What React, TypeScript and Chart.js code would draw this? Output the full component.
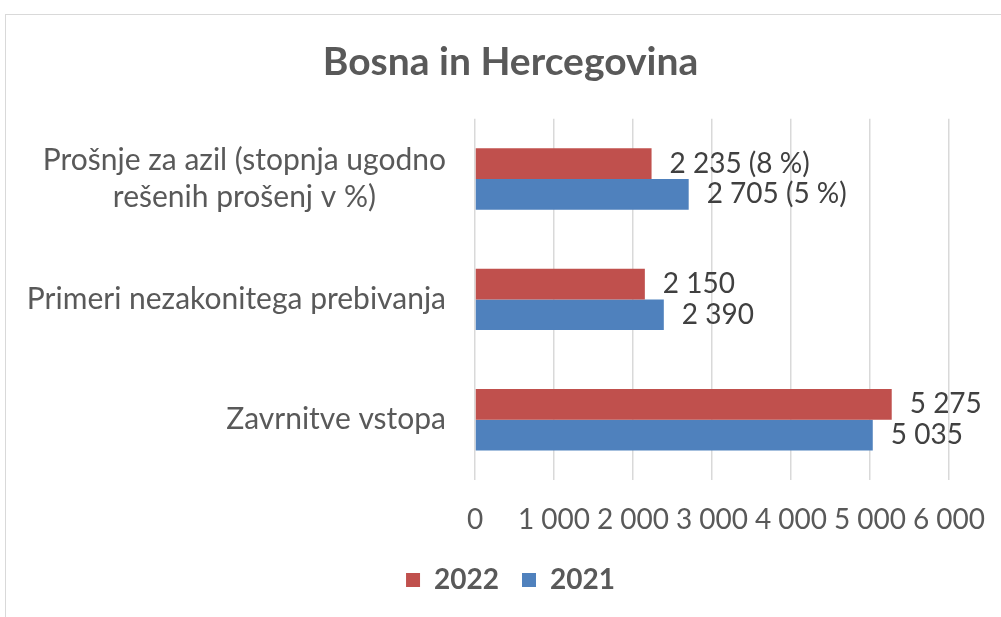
import React, { useEffect, useRef } from "react";
import { Chart, registerables } from "chart.js";

Chart.register(...registerables);

const categories: (string | string[])[] = [
  ["Prošnje za azil (stopnja ugodno", "rešenih prošenj v %)"],
  "Primeri nezakonitega prebivanja",
  "Zavrnitve vstopa",
];
const values2022 = [2235, 2150, 5275];
const values2021 = [2705, 2390, 5035];
const pct2022: (number | null)[] = [8, null, null];
const pct2021: (number | null)[] = [5, null, null];
const xTicks = [0, 1000, 2000, 3000, 4000, 5000, 6000];
const title = "Bosna in Hercegovina";

const FONT = "Lato, 'Open Sans', sans-serif";
const AXIS_COLOR = "#595959";
const LABEL_COLOR = "#404040";

const fmt = (v: number) => {
  const s = Math.round(v).toString();
  return s.replace(/\B(?=(\d{3})+(?!\d))/g, " ");
};
const dataLabel = (v: number, p: number | null) =>
  p === null ? fmt(v) : `${fmt(v)} (${p} %)`;

const dataLabelsPlugin = {
  id: "dataLabels",
  afterDatasetsDraw(chart: any) {
    const ctx = chart.ctx;
    const pcts = [pct2022, pct2021];
    ctx.save();
    ctx.font = `28px ${FONT}`;
    ctx.fillStyle = LABEL_COLOR;
    ctx.textAlign = "left";
    ctx.textBaseline = "middle";
    chart.data.datasets.forEach((ds: any, di: number) => {
      const meta = chart.getDatasetMeta(di);
      meta.data.forEach((el: any, i: number) => {
        ctx.fillText(dataLabel(ds.data[i], pcts[di][i]), el.x + 18, el.y);
      });
    });
    ctx.restore();
  },
};

const yLabelsPlugin = {
  id: "yLabels",
  afterDraw(chart: any) {
    const ctx = chart.ctx;
    const scale = chart.scales.y;
    ctx.save();
    ctx.font = `30px ${FONT}`;
    ctx.fillStyle = AXIS_COLOR;
    ctx.textAlign = "center";
    ctx.textBaseline = "middle";
    const lineH = 37;
    const right = scale.right - 29;
    categories.forEach((c, i) => {
      const lines = Array.isArray(c) ? c : [c];
      const w = Math.max(...lines.map((l) => ctx.measureText(l).width));
      const cx = right - w / 2;
      const yc = scale.getPixelForTick(i);
      lines.forEach((l, k) => {
        ctx.fillText(l, cx, yc + (k - (lines.length - 1) / 2) * lineH);
      });
    });
    ctx.restore();
  },
};

export default function App() {
  const ref = useRef<HTMLCanvasElement>(null);
  useEffect(() => {
    if (!ref.current) return;
    const chart = new Chart(ref.current, {
      type: "bar",
      data: {
        labels: categories as any,
        datasets: [
          {
            label: "2022",
            data: values2022,
            backgroundColor: "#C0504D",
            borderWidth: 0,
            categoryPercentage: 0.51,
            barPercentage: 1,
          },
          {
            label: "2021",
            data: values2021,
            backgroundColor: "#4F81BD",
            borderWidth: 0,
            categoryPercentage: 0.51,
            barPercentage: 1,
          },
        ],
      },
      options: {
        indexAxis: "y",
        responsive: false,
        animation: false,
        layout: { padding: { left: 66, right: 66, top: 0, bottom: 15 } },
        scales: {
          x: {
            min: 0,
            max: 6000,
            afterBuildTicks: (s: any) => {
              s.ticks = xTicks.map((v) => ({ value: v }));
            },
            afterFit: (s: any) => {
              s.height = 63;
            },
            ticks: {
              color: AXIS_COLOR,
              font: { family: FONT, size: 28 },
              padding: 23,
              maxRotation: 0,
              autoSkip: false,
              callback: (v: any) => fmt(Number(v)),
            },
            grid: { color: "#d9d9d9", lineWidth: 1.5, drawTicks: false },
            border: { display: false },
          },
          y: {
            afterFit: (s: any) => {
              s.width = 403;
            },
            ticks: {
              color: "rgba(0,0,0,0)",
              font: { family: FONT, size: 28 },
            },
            grid: { display: false, drawTicks: false },
            border: { display: false },
          },
        },
        plugins: {
          title: {
            display: true,
            text: title,
            color: AXIS_COLOR,
            font: { family: FONT, size: 39, weight: "bold" },
            padding: { top: 24, bottom: 33 },
          },
          legend: {
            position: "bottom",
            labels: {
              color: AXIS_COLOR,
              font: { family: FONT, size: 28, weight: "bold" },
              boxWidth: 14,
              boxHeight: 14,
              padding: 23,
            },
          },
          tooltip: { enabled: false },
        },
      },
      plugins: [dataLabelsPlugin, yLabelsPlugin],
    } as any);
    return () => chart.destroy();
  }, []);

  return (
    <div
      style={{
        position: "fixed",
        left: 0,
        top: 0,
        width: 1001,
        height: 617,
        overflow: "hidden",
        background: "#fff",
      }}
    >
      <div
        style={{
          position: "absolute",
          left: 5,
          top: 14,
          width: 1009,
          height: 640,
          border: "1px solid #d9d9d9",
        }}
      >
        <canvas
          ref={ref}
          width={1009}
          height={604}
          style={{ position: "absolute", left: 0, top: 0, width: 1009, height: 604 }}
        />
      </div>
    </div>
  );
}
